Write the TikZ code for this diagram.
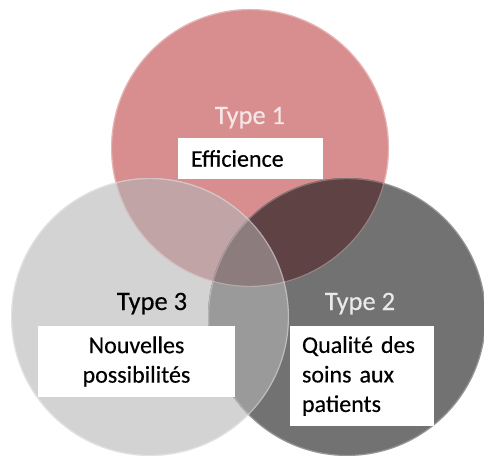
\documentclass[tikz,border=0pt]{standalone}
\usepackage{fontspec}
\setmainfont{Carlito}[FakeBold=0.35]
\usetikzlibrary{shapes}

\definecolor{onefill}{HTML}{D88E8E}
\definecolor{twofill}{HTML}{727272}
\definecolor{threefill}{HTML}{D3D3D3}
\definecolor{onethree}{HTML}{C0A4A6}
\definecolor{onetwo}{HTML}{5E4244}
\definecolor{twothree}{HTML}{9A9A9A}
\definecolor{allthree}{HTML}{8C7C7E}
\definecolor{onetext}{HTML}{F6E6E6}
\definecolor{twotext}{HTML}{EAEAEA}

\begin{document}
\begin{tikzpicture}[x=1pt,y=1pt]
	\tikzstyle{every node}=[font=\fontsize{24}{29.5}\selectfont]
	\tikzstyle{typelabel}=[anchor=base, inner sep=0pt, font=\fontsize{26.5}{30}\selectfont]
	\tikzstyle{aimbox}=[fill=white, inner ysep=0pt]
	
	%%Canvas
	\useasboundingbox (0.0000,0.0000) rectangle (484.0000,458.0000);
	\fill [white]  (0.0000,0.0000) rectangle (484.0000,458.0000);
	
	%%Circle centres
	\coordinate (cone) at (250.0000,310.0000);
	\coordinate (ctwo) at (347.0000,141.0000);
	\coordinate (cthree) at (150.0000,141.0000);
	
	%%Circles
	\fill [onefill]  (cone) circle (139);
	\fill [threefill]  (cthree) circle (139);
	\fill [twofill]  (ctwo) circle (139);
	
	%%Overlaps
	\begin{scope}
		\clip (cone) circle (139);
		\fill [onethree]  (cthree) circle (139);
		\fill [onetwo]  (ctwo) circle (139);
	\end{scope}
	\begin{scope}
		\clip (cthree) circle (139);
		\fill [twothree]  (ctwo) circle (139);
		\clip (ctwo) circle (139);
		\fill [allthree]  (cone) circle (139);
	\end{scope}
	
	%%Rims
	\draw [white, opacity=0.35, line width=1.2]  (cone) circle (138.4);
	\draw [white, opacity=0.35, line width=1.2]  (cthree) circle (138.4);
	\draw [white, opacity=0.25, line width=1.2]  (ctwo) circle (138.4);
	
	%%Labels
	\node [typelabel, text=onetext]  (typeone) at (250.0000,334.0000)  {Type 1};
	\node [typelabel, text=black]  (typethree) at (152.0000,148.0000)  {Type 3};
	\node [typelabel, text=twotext]  (typetwo) at (360.0000,148.0000)  {Type 2};
	
	%%Boxes
	\node [aimbox, inner xsep=13, text width=119, minimum height=41, align=left]  (efficience) at (250.5000,299.5000)  {Efficience};
	\node [aimbox, inner xsep=13, text width=171, minimum height=71, align=center]  (possibilites) at (136.5000,96.5000)  {Nouvelles\\possibilités};
	\node [aimbox, inner xsep=12, text width=120, minimum height=100, align=left]  (qualite) at (362.0000,82.0000)  {Qualité des\\soins aux\\patients};

\end{tikzpicture}
\end{document}
